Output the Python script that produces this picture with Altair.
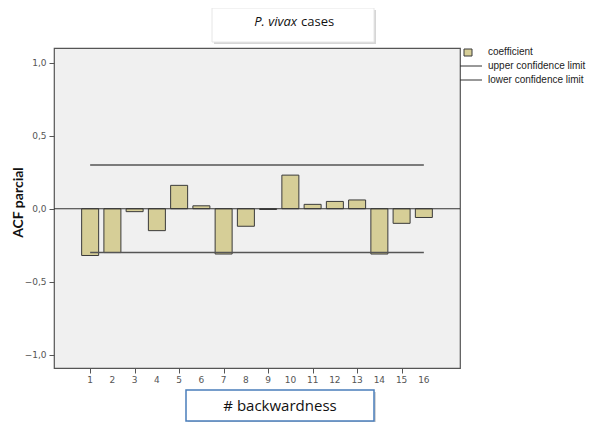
import altair as alt
import pandas as pd

# ---- data ----
lags = list(range(1, 17))
coefficients = [-0.32, -0.30, -0.02, -0.15, 0.16, 0.02, -0.31, -0.12,
                -0.005, 0.23, 0.03, 0.05, 0.06, -0.31, -0.10, -0.06]
upper_limit = 0.30
lower_limit = -0.30
y_ticks = [-1.0, -0.5, 0.0, 0.5, 1.0]
legend_labels = ["coefficient", "upper confidence limit", "lower confidence limit"]
title_italic = "P. vivax"
title_plain = "cases"
x_title = "# backwardness"
y_title = "ACF parcial"

bars_df = pd.DataFrame({"lag": lags, "coef": coefficients})
limits_df = pd.DataFrame({"x0": [lags[0], lags[0]], "x1": [lags[-1], lags[-1]],
                          "y": [upper_limit, lower_limit]})
one = pd.DataFrame({"a": [0]})

W, H = 406, 320
BAR = "#d6ce97"
x_scale = alt.Scale(domain=[-0.4, 17.4], nice=False, zero=False)
y_scale = alt.Scale(domain=[-1.09, 1.10], nice=False, zero=False)

bars = alt.Chart(bars_df).mark_bar(size=17, fill=BAR, stroke="#3a3a3a", strokeWidth=1).encode(
    x=alt.X("lag:Q", scale=x_scale,
            axis=alt.Axis(values=lags, title=None, grid=False, domain=False, tickSize=5,
                          tickColor="#555555", labels=False)),
    y=alt.Y("coef:Q", scale=y_scale,
            axis=alt.Axis(values=y_ticks, title=y_title, grid=False, domain=False, tickSize=5,
                          tickColor="#555555", labelFontSize=9, labelColor="#555555",
                          labelFont="DejaVu Sans", labelPadding=3, labelOverlap=False,
                          labelExpr="replace(format(datum.value, '.1f'), '.', ',')",
                          titleFont="Lato", titleFontSize=14, titleFontWeight="bold",
                          titleColor="#111111", titleAngle=-90, titleX=-36, titleY=154,
                          titleAlign="center", titleBaseline="middle")),
    y2=alt.datum(0),
)

x_labels = alt.Chart(bars_df).mark_text(font="DejaVu Sans", fontSize=9, color="#555555",
                                        baseline="top", align="center").encode(
    x=alt.X("lag:Q", scale=x_scale), y=alt.value(H + 8), text=alt.Text("lag:Q", format="d"))

zero_line = alt.Chart(one).mark_rule(color="#333333", strokeWidth=1.2).encode(
    x=alt.value(0), x2=alt.value(W), y=alt.datum(0)
)

limits = alt.Chart(limits_df).mark_rule(color="#555555", strokeWidth=1.5).encode(
    x="x0:Q", x2="x1:Q", y="y:Q"
)

# title box
title_shadow = alt.Chart(one).mark_rect(fill="#bbbbbb", opacity=0.6).encode(
    x=alt.value(160), x2=alt.value(322), y=alt.value(-38), y2=alt.value(-4))
title_box = alt.Chart(one).mark_rect(fill="white", stroke="#e6e6e6").encode(
    x=alt.value(158), x2=alt.value(320), y=alt.value(-40), y2=alt.value(-6))
title_it = alt.Chart(one).mark_text(text=title_italic, fontStyle="italic", font="Open Sans",
                                    fontSize=13, align="right", baseline="middle",
                                    color="#111111").encode(
    x=alt.value(243), y=alt.value(-26))
title_pl = alt.Chart(one).mark_text(text=title_plain, font="Open Sans", fontSize=13,
                                    align="left", baseline="middle", color="#111111").encode(
    x=alt.value(247), y=alt.value(-26))

# x title box
xt_shadow = alt.Chart(one).mark_rect(fill="#bbbbbb", opacity=0.6).encode(
    x=alt.value(134), x2=alt.value(322), y=alt.value(344), y2=alt.value(375))
xt_box = alt.Chart(one).mark_rect(fill="white", stroke="#4a7ebb", strokeWidth=1.5).encode(
    x=alt.value(132), x2=alt.value(320), y=alt.value(342), y2=alt.value(373))
xt_text = alt.Chart(one).mark_text(text=x_title, font="Open Sans", fontSize=15,
                                   align="center", baseline="middle", color="#111111").encode(
    x=alt.value(226), y=alt.value(358))

# legend
leg_swatch = alt.Chart(one).mark_rect(fill=BAR, stroke="#3a3a3a", strokeWidth=1).encode(
    x=alt.value(410), x2=alt.value(418), y=alt.value(1), y2=alt.value(8))
leg_lines = alt.Chart(pd.DataFrame({"yy": [18, 32]})).mark_rule(color="#333333", strokeWidth=1).encode(
    x=alt.value(406), x2=alt.value(428), y=alt.Y("yy:Q", scale=None))
leg_text = alt.Chart(pd.DataFrame({"label": legend_labels, "yy": [4, 18, 32]})).mark_text(
    font="Liberation Sans", fontSize=10, align="left", baseline="middle", color="#222222").encode(
    x=alt.value(434), y=alt.Y("yy:Q", scale=None), text="label:N")

chart = alt.layer(
    bars, x_labels, zero_line, limits,
    title_shadow, title_box, title_it, title_pl,
    xt_shadow, xt_box, xt_text,
    leg_swatch, leg_lines, leg_text,
).properties(
    width=W, height=H,
    autosize=alt.AutoSizeParams(type="none"),
    padding={"left": 46, "top": 40, "right": 132, "bottom": 54},
    background="white",
).configure_view(
    fill="#f0f0f0", stroke="#555555", strokeWidth=1.2
)

chart.save("out.html", embed_options={"renderer": "svg", "actions": False})
